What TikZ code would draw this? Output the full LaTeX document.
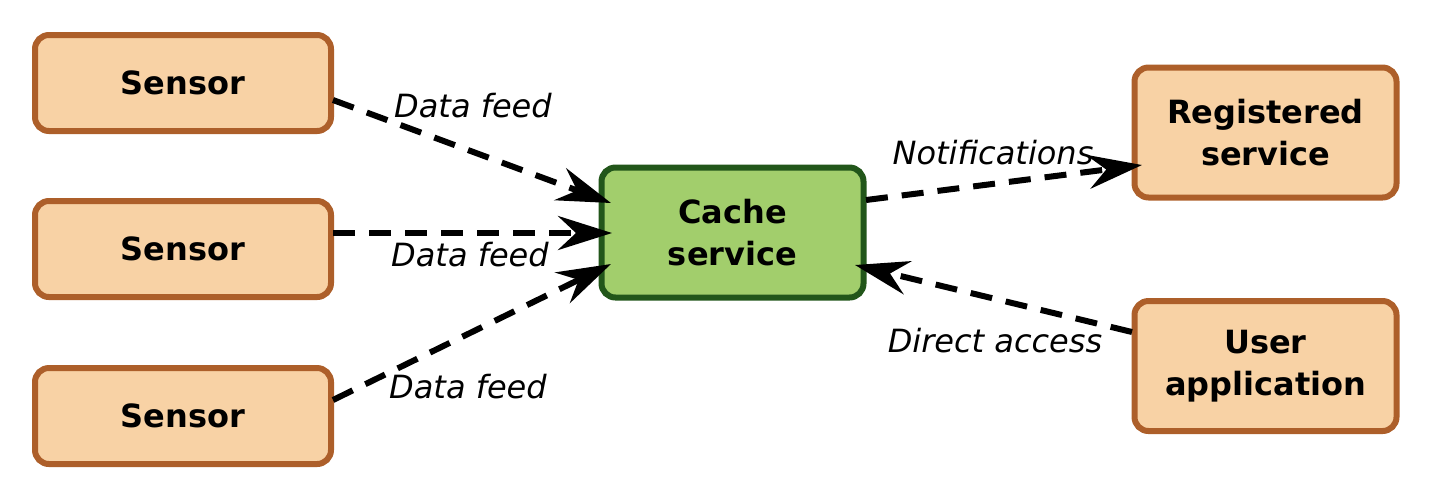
\documentclass[tikz,border=0pt]{standalone}
\usepackage{fontspec}
\setmainfont{DejaVu Sans}
\usetikzlibrary{arrows.meta}
\definecolor{obox}{HTML}{F8D2A5}
\definecolor{oline}{HTML}{AD5F2A}
\definecolor{gbox}{HTML}{A2CE6C}
\definecolor{gline}{HTML}{22561A}
\begin{document}
\begin{tikzpicture}[x=0.5pt,y=-0.5pt,
  srcbox/.style={draw=oline,fill=obox,line width=3pt,rounded corners=7pt,minimum width=148pt,minimum height=48pt,font=\fontsize{16}{19}\selectfont\bfseries,align=center,inner sep=0pt},
  cachebox/.style={draw=gline,fill=gbox,line width=3pt,rounded corners=7pt,minimum width=131pt,minimum height=65pt,font=\fontsize{16}{21}\selectfont\bfseries,align=center,inner sep=0pt},
  svcbox/.style={srcbox,minimum width=131pt,minimum height=65pt,font=\fontsize{16}{21}\selectfont\bfseries},
  flow/.style={line width=3pt,dash pattern=on 11pt off 7pt,-{Stealth[length=27pt,width=17pt,inset=9pt]}},
  lbl/.style={font=\fontsize{16}{19}\selectfont\itshape,inner sep=0pt}]
\useasboundingbox (0,0) rectangle (1433,500);
\node[srcbox] (s1) at (183,83) {Sensor};
\node[srcbox] (s2) at (183,249) {Sensor};
\node[srcbox] (s3) at (183,416) {Sensor};
\node[cachebox] (c) at (732.5,232.5) {Cache\\service};
\node[svcbox] (r) at (1265.5,132.5) {Registered\\service};
\node[svcbox] (u) at (1265.5,366) {User\\application};
\coordinate (s1e) at (333,100);
\coordinate (s2e) at (333,233);
\coordinate (s3e) at (333,400);
\coordinate (c1) at (611,203);
\coordinate (c2) at (612,233);
\coordinate (c3) at (611,264);
\coordinate (cr) at (866,200);
\coordinate (rin) at (1142,165);
\coordinate (uout) at (1132,332);
\coordinate (cin) at (855,265);
\draw[flow] (s1e) -- (c1);
\draw[flow] (s2e) -- (c2);
\draw[flow] (s3e) -- (c3);
\draw[flow] (cr) -- (rin);
\draw[flow] (uout) -- (cin);
\node[lbl] (l1) at (473,106) {Data feed};
\node[lbl] (l2) at (470,255) {Data feed};
\node[lbl] (l3) at (468,387) {Data feed};
\node[lbl] (l4) at (993,153) {Notifications};
\node[lbl] (l5) at (995,341) {Direct access};
\end{tikzpicture}
\end{document}
